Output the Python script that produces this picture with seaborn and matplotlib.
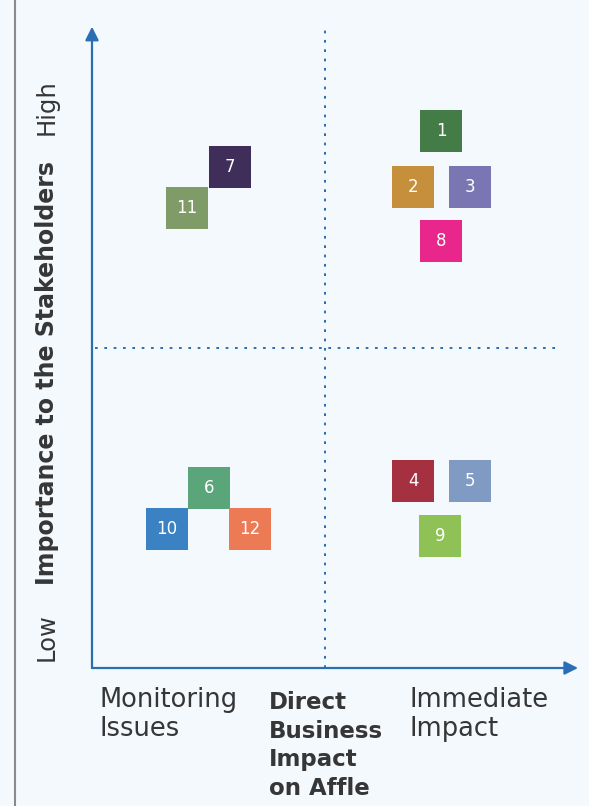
import matplotlib
matplotlib.use("Agg")
import pandas as pd
import seaborn as sns
import matplotlib.pyplot as plt
from matplotlib.lines import Line2D

# issue numbers and their place on the matrix (business impact, stakeholder importance)
issues = ["1", "2", "3", "8", "7", "11", "6", "10", "12", "4", "5", "9"]
impact = [7.49, 6.89, 8.11, 7.49, 2.96, 2.04, 2.51, 1.61, 3.39, 6.89, 8.11, 7.47]
importance = [8.39, 7.52, 7.52, 6.67, 7.83, 7.19, 2.81, 2.17, 2.17, 2.92, 2.92, 2.06]
colors = ["#437c47", "#c68f3c", "#7a75b3", "#e8268c", "#3f2d5a", "#7f9c68",
          "#5aa57a", "#3b82c4", "#ec7a55", "#a43040", "#7f9bc4", "#8ec257"]

x_labels = ["Monitoring\nIssues", "Immediate\nImpact"]
x_title = "Direct\nBusiness\nImpact\non Affle"
y_labels = ["Low", "High"]
y_title = "Importance to the Stakeholders"

BG = "#f4f9fd"
BLUE = "#2a6fb5"
TEXT = "#363636"

sns.set_style("white")
plt.rcParams["font.family"] = ["DejaVu Sans"]

W, H = 589, 806
fig = plt.figure(figsize=(W / 100, H / 100), dpi=100, facecolor=BG)


def fx(px):
    return px / W


def fy(py):
    return 1 - py / H


ax = fig.add_axes([fx(92), fy(668), fx(558) - fx(92), fy(28) - fy(668)])
ax.set_facecolor(BG)
ax.set_xlim(0, 10)
ax.set_ylim(0, 10)
ax.axis("off")

frame = pd.DataFrame({"issue": issues, "impact": impact, "importance": importance})

# quadrant dividers
ax.plot([5, 5], [0, 10.05], color=BLUE, lw=1.4, ls=(0, (1.4, 3.4)), clip_on=False)
ax.plot([0.06, 10], [5, 5], color=BLUE, lw=1.4, ls=(0, (1.4, 3.4)), clip_on=False)

# axis arrows
arrow = dict(arrowstyle="-|>", color=BLUE, lw=1.6, mutation_scale=20, shrinkA=0, shrinkB=0)
ax.annotate("", xy=(10.43, 0), xytext=(0, 0), arrowprops=arrow, annotation_clip=False)
ax.annotate("", xy=(0, 10.02), xytext=(0, 0), arrowprops=arrow, annotation_clip=False)

sns.scatterplot(data=frame, x="impact", y="importance", hue="issue",
                palette=dict(zip(issues, colors)), marker="s", s=30.5 ** 2,
                linewidth=0, legend=False, ax=ax, clip_on=False, zorder=3)

for _, row in frame.iterrows():
    ax.text(row["impact"], row["importance"], row["issue"], color="white",
            fontsize=12, ha="center", va="center", zorder=4)

# side line
fig.add_artist(Line2D([fx(15), fx(15)], [0, 1], color="#8a8a8a", lw=1.5))

# y axis texts
fig.text(fx(47), fy(107), y_labels[1], rotation=90, ha="center", va="center",
         fontsize=17.5, color=TEXT)
fig.text(fx(47), fy(637), y_labels[0], rotation=90, ha="center", va="center",
         fontsize=17.5, color=TEXT)
fig.text(fx(47), fy(373), y_title, rotation=90, ha="center", va="center",
         fontsize=17, fontweight="bold", color=TEXT)

# x axis texts
fig.text(fx(99), fy(687), x_labels[0], ha="left", va="top", fontsize=18.5,
         color=TEXT, linespacing=1.16)
fig.text(fx(410), fy(687), x_labels[1], ha="left", va="top", fontsize=18.5,
         color=TEXT, linespacing=1.16)
fig.text(fx(269), fy(691), x_title, ha="left", va="top", fontsize=16.5,
         fontweight="bold", color=TEXT, linespacing=1.31)

fig.savefig("out.png", dpi=100, facecolor=BG)
